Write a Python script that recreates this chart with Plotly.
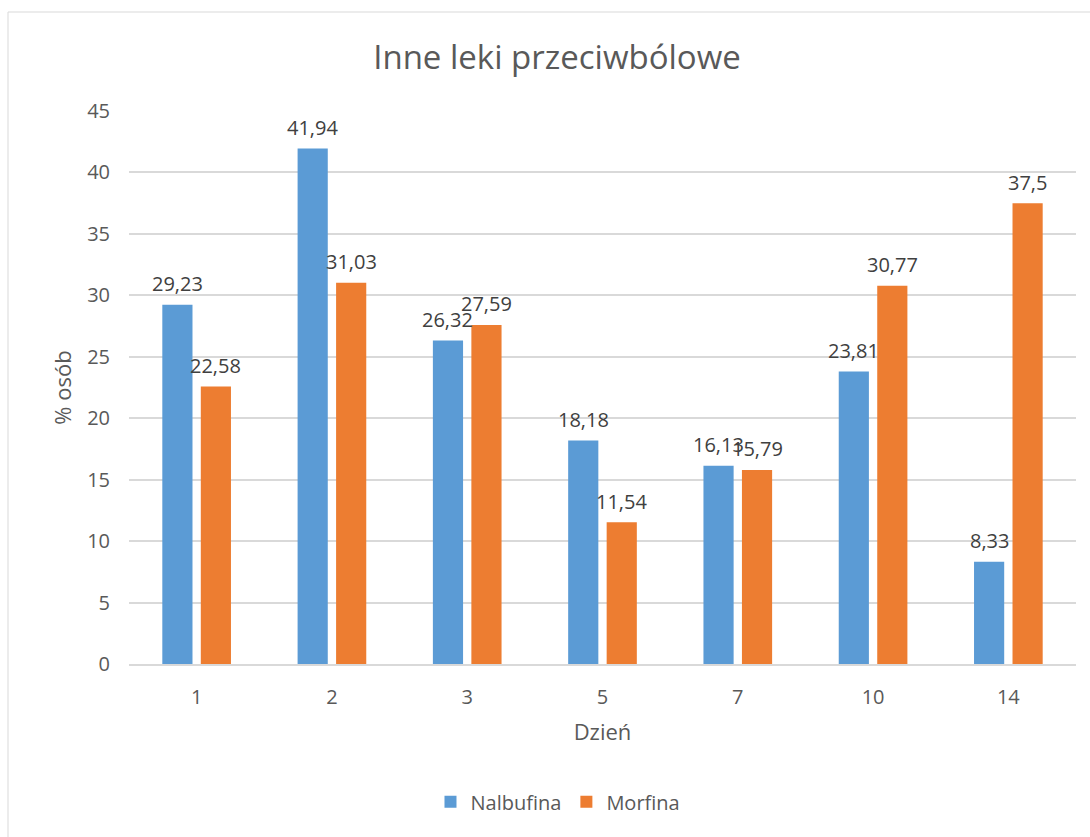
import plotly.graph_objects as go

# Dzień obserwacji i odsetek osób otrzymujących inne leki przeciwbólowe
days = ["1", "2", "3", "5", "7", "10", "14"]
nalbufina = [29.23, 41.94, 26.32, 18.18, 16.13, 23.81, 8.33]
morfina = [22.58, 31.03, 27.59, 11.54, 15.79, 30.77, 37.5]
series_names = ["Nalbufina", "Morfina"]
y_ticks = [0, 5, 10, 15, 20, 25, 30, 35, 40, 45]

BLUE = "#5B9BD5"
ORANGE = "#ED7D31"
GRID = "#D9D9D9"
TEXT = "#595959"
LABEL = "#404040"
FONT = "Open Sans"


def pl(v):
    """Format a number with a decimal comma."""
    s = f"{v:.2f}".rstrip("0").rstrip(".")
    return s.replace(".", ",")


fig = go.Figure()
for name, vals, color in [(series_names[0], nalbufina, BLUE),
                          (series_names[1], morfina, ORANGE)]:
    fig.add_trace(go.Bar(
        x=days, y=vals, name=name,
        marker=dict(color=color, line=dict(width=0)),
        hoverinfo="x+y",
    ))

# value labels above each bar (offset left/right for the two series);
# on a category axis the annotation x is the category index
slot_px = 38.5
annotations = []
for vals, shift in [(nalbufina, -slot_px / 2), (morfina, slot_px / 2)]:
    for i, v in enumerate(vals):
        annotations.append(dict(
            x=i, y=v, xref="x", yref="y", text=pl(v), showarrow=False,
            xshift=shift, yshift=21, yanchor="middle", xanchor="center",
            font=dict(family=FONT, size=20, color=LABEL),
        ))

fig.update_layout(
    width=1090, height=837,
    margin=dict(l=129, r=14, t=111, b=173),
    paper_bgcolor="white", plot_bgcolor="white",
    font=dict(family=FONT, color=TEXT),
    title=dict(text="Inne leki przeciwbólowe", x=0.511, xanchor="center",
               y=1 - 57 / 837, yanchor="middle", xref="container", yref="container",
               font=dict(family=FONT, size=33, color=TEXT)),
    barmode="group", bargap=0.431, bargroupgap=0.216,
    showlegend=True,
    legend=dict(orientation="h", x=0.453, xanchor="center", y=-0.249, yanchor="middle",
                font=dict(family=FONT, size=20, color=TEXT), traceorder="normal",
                itemwidth=30, bgcolor="rgba(0,0,0,0)"),
    annotations=annotations,
    shapes=[dict(type="rect", xref="paper", yref="paper",
                 x0=(8 - 129) / 947, x1=(1100 - 129) / 947,
                 y0=(664 - 850) / 553, y1=(664 - 12) / 553,
                 line=dict(color=GRID, width=1), fillcolor="rgba(0,0,0,0)",
                 layer="below")],
)

fig.update_xaxes(
    type="category", categoryorder="array", categoryarray=days,
    range=[-0.5, len(days) - 0.5], autorange=False,
    showgrid=False, zeroline=False,
    showline=True, linecolor=GRID, linewidth=1.5,
    ticks="", tickfont=dict(family=FONT, size=20, color=TEXT),
    ticklabelstandoff=14,
    title=dict(text="Dzień", font=dict(family=FONT, size=22, color=TEXT), standoff=16),
)
fig.update_yaxes(
    range=[0, 45], tickvals=y_ticks, ticktext=[str(t) for t in y_ticks],
    showgrid=True, gridcolor=GRID, gridwidth=1.5, zeroline=False,
    showline=False, ticks="", tickfont=dict(family=FONT, size=20, color=TEXT),
    ticklabelstandoff=18,
    title=dict(text="% osób", font=dict(family=FONT, size=22, color=TEXT), standoff=9),
)

fig.write_html("out.html")
